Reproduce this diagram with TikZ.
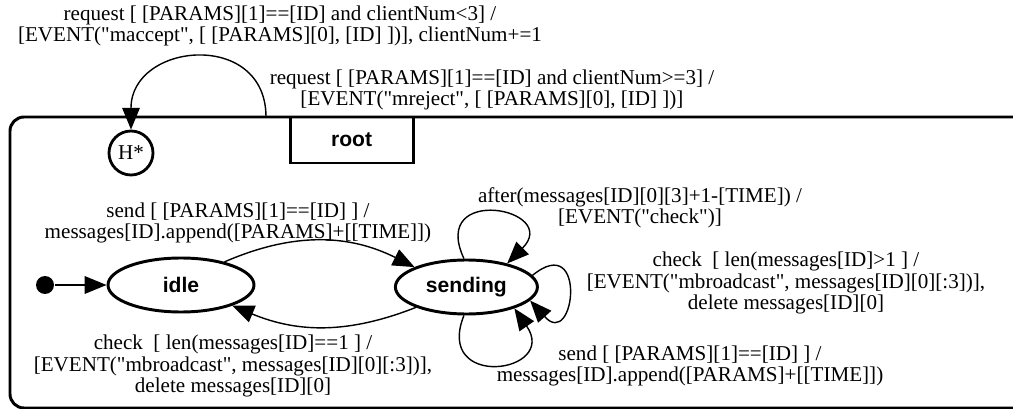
\documentclass[tikz,border=0pt]{standalone}
\usepackage{fontspec}
\setmainfont{Liberation Serif}[Ligatures=TeXOff]
\newfontfamily\statefont{Liberation Sans}
\usepackage{tikz}
\usetikzlibrary{arrows.meta,positioning,shapes.geometric}
\tikzset{
  chart/.style={
    >={Triangle[length=15.5pt,width=12.5pt]},
    line width=1pt,
    every node/.style={font=\fontsize{15}{15}\selectfont}
  },
  container/.style={               % outer root state
    draw, line width=2.1pt,
    rounded corners=10pt,
    minimum width=25.5cm,
    minimum height=7.275cm
  },
  namebox/.style={                 % name tab of the root state
    draw, line width=2pt,
    inner sep=0pt,
    minimum width=3.075cm,
    minimum height=1.15cm,
    font=\statefont\bfseries\fontsize{15}{15}\selectfont
  },
  state/.style={
    draw, ellipse, line width=2.1pt,
    inner sep=0pt,
    font=\statefont\bfseries\fontsize{15}{15}\selectfont
  },
  history/.style={draw, circle, line width=2pt, inner sep=0pt, minimum size=1.1cm},
  initdot/.style={circle, fill=black, inner sep=0pt, minimum size=0.45cm},
  trans/.style={->, line width=1pt},
  tlabel/.style={align=center, inner sep=0pt}
}
\begin{document}
\begin{tikzpicture}[chart]
\useasboundingbox (0,0) rectangle (25.325,-10.225);

% Root state and its name tab
\node[container] (rootstate) at (13.0,-6.5625) {};
\node[namebox] (rootname) at (8.79,-3.5) {root};

% History pseudo state and initial dot
\node[history] (hist) at (3.275,-3.825) {H*};
\node[initdot] (init) at (1.125,-7.125) {};

% States
\node[state, minimum width=3.65cm, minimum height=1.35cm] (idle) at (4.525,-7.125) {idle};
\node[state, minimum width=3.55cm, minimum height=1.35cm] (sending) at (11.66,-7.175) {sending};

% Transition labels
\node[tlabel] (lblaccept) at (7.0,-0.65)
  {request [ [PARAMS][1]==[ID] and clientNum<3] /\\{}[EVENT("maccept", [ [PARAMS][0], [ID] ])], clientNum+=1};
\node[tlabel] (lblreject) at (12.3,-2.25)
  {request [ [PARAMS][1]==[ID] and clientNum>=3] /\\{}[EVENT("mreject", [ [PARAMS][0], [ID] ])]};
\node[tlabel] (lblsend) at (5.95,-5.575)
  {send [ [PARAMS][1]==[ID] ] /\\messages[ID].append([PARAMS]+[[TIME]])};
\node[tlabel] (lblcheck) at (5.825,-9.15)
  {check\ \ [ len(messages[ID]==1 ] /\\{}[EVENT("mbroadcast", messages[ID][0][:3])],\\delete messages[ID][0]};
\node[tlabel] (lblafter) at (16.0,-5.2)
  {after(messages[ID][0][3]+1-[TIME]) /\\{}[EVENT("check")]};
\node[tlabel] (lblmore) at (19.65,-7.075)
  {check\ \ [ len(messages[ID]>1 ] /\\{}[EVENT("mbroadcast", messages[ID][0][:3])],\\delete messages[ID][0]};
\node[tlabel] (lblappend) at (17.25,-9.15)
  {send [ [PARAMS][1]==[ID] ] /\\messages[ID].append([PARAMS]+[[TIME]])};

% Request loop back into history
\coordinate (histsrc) at (6.65,-2.925);
\draw[trans] (histsrc) to[out=90,in=90,looseness=1.65] (hist.north);

% idle <-> sending
\draw[trans] (init) -- (idle);
\draw[trans] (idle.28) to[bend left=25] (sending.159);
\draw[trans] (sending.202) to[bend left=22] (idle.-22);

% Self loops on sending
\draw[trans] (sending.95) .. controls +(-0.875,1.875) and +(1.375,1.375) .. (sending.30);
\draw[trans] (sending.10) .. controls +(1.375,1.125) and +(1.125,-1.25) .. (sending.-12);
\draw[trans] (sending.-95) .. controls +(-0.75,-1.875) and +(1.125,-1.625) .. (sending.-24);

\end{tikzpicture}
\end{document}
